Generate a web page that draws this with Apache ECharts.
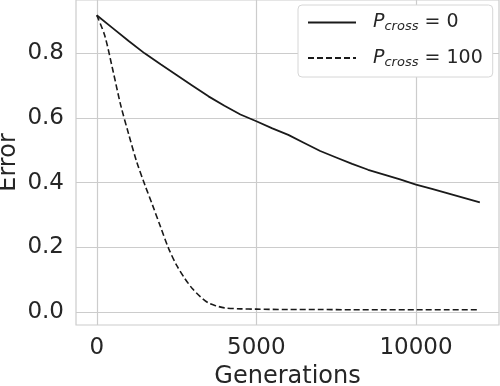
<!DOCTYPE html>
<html>
<head>
<meta charset="utf-8">
<script src="https://cdn.jsdelivr.net/npm/echarts@6/dist/echarts.min.js"></script>
<style>
  html,body{margin:0;padding:0;background:#fff;}
  #chart{width:500px;height:386px;}
</style>
</head>
<body>
<div id="chart"></div>
<script>
// values
const gensSolid=[0,500,1000,1500,2000,2500,3000,3500,4000,4500,5000,5500,6000,6500,7000,7500,8000,8500,9000,9500,10000,10500,11000,11500,12000];
const errSolid=[0.918,0.878,0.838,0.800,0.766,0.733,0.700,0.667,0.638,0.611,0.590,0.568,0.548,0.523,0.498,0.478,0.458,0.440,0.425,0.410,0.394,0.381,0.367,0.353,0.339];
const gensDashed=[0,250,500,750,1000,1250,1500,1750,2000,2250,2500,2750,3000,3250,3500,3750,4000,4500,5000,6000,7000,8000,9000,10000,11000,12000];
const errDashed=[0.918,0.855,0.750,0.640,0.550,0.465,0.395,0.330,0.263,0.197,0.145,0.105,0.072,0.047,0.028,0.019,0.013,0.010,0.009,0.008,0.008,0.007,0.007,0.007,0.007,0.007];
const xTicks=[0,5000,10000];
const yTicks=[0,0.2,0.4,0.6,0.8];
const legendNames=['P0','P100'];
const legendSuffix=[' = 0',' = 100'];

const ink='#262626';
const font='DejaVu Sans';

function pairs(xs,ys){
    return xs.map(function(x,i){return [x,ys[i]];});
}

const chart=echarts.init(document.getElementById('chart'));
chart.setOption({
    animation:false,
    textStyle:{fontFamily:font,color:ink},
    grid:{left:76,right:1,top:0,bottom:61,show:true,borderColor:'#cccccc',borderWidth:1.2,
        outerBoundsMode:'none',containLabel:false},
    legend:{
        orient:'vertical',
        left:298,top:5,
        padding:[8,10,8,9],
        itemWidth:48,itemHeight:14,itemGap:15,
        backgroundColor:'#fff',
        borderColor:'#d6d6d6',borderWidth:1,borderRadius:4,
        itemStyle:{opacity:0},
        data:legendNames,
        formatter:function(name){
            const i=legendNames.indexOf(name);
            return '{p|P}{s|cross}{n|'+legendSuffix[i]+'}';
        },
        textStyle:{
            color:ink,fontFamily:font,padding:[0,0,0,12],
            rich:{
                p:{fontSize:19,fontStyle:'italic',color:ink,fontFamily:font},
                s:{fontSize:13,fontStyle:'italic',color:ink,fontFamily:font,padding:[9,0,0,0]},
                n:{fontSize:19,color:ink,fontFamily:font}
            }
        }
    },
    xAxis:{
        type:'value',min:-650,max:12600,
        name:'Generations',nameLocation:'middle',nameGap:40,nameMoveOverlap:false,
        nameTextStyle:{fontSize:24,color:ink,fontFamily:font},
        axisLine:{show:false},
        axisTick:{show:false,customValues:xTicks},
        axisLabel:{customValues:xTicks,fontSize:23,color:ink,margin:12,fontFamily:font,
            formatter:function(v){return String(v);}},
        splitLine:{show:true,lineStyle:{color:'#cccccc',width:1.2}}
    },
    yAxis:{
        type:'value',min:-0.04,max:0.965,
        name:'Error',nameLocation:'middle',nameGap:55,nameMoveOverlap:false,
        nameTextStyle:{fontSize:24,color:ink,fontFamily:font},
        axisLine:{show:false},
        axisTick:{show:false,customValues:yTicks},
        axisLabel:{customValues:yTicks,fontSize:23,color:ink,margin:12,fontFamily:font,
            formatter:function(v){return v.toFixed(1);}},
        splitLine:{show:true,lineStyle:{color:'#cccccc',width:1.2}}
    },
    series:[
        {
            name:legendNames[0],type:'line',symbol:'none',
            data:pairs(gensSolid,errSolid),
            lineStyle:{color:'#1a1a1a',width:1.8,type:'solid'},
            itemStyle:{color:'#1a1a1a'}
        },
        {
            name:legendNames[1],type:'line',symbol:'none',smooth:0.3,
            data:pairs(gensDashed,errDashed),
            lineStyle:{color:'#1a1a1a',width:1.6,type:[6,3]},
            itemStyle:{color:'#1a1a1a'}
        }
    ]
});
</script>
</body>
</html>
